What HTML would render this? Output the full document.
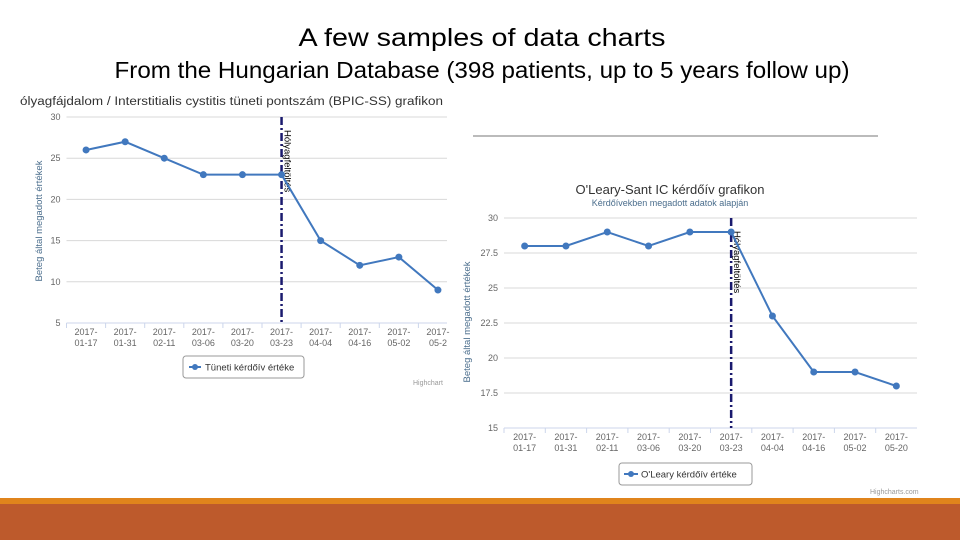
<!DOCTYPE html>
<html><head><meta charset="utf-8"><style>
html,body{margin:0;padding:0;background:#fff;width:960px;height:540px;overflow:hidden}
svg{display:block;font-family:"Liberation Sans",sans-serif}
</style></head><body>
<svg id="s" width="960" height="540" viewBox="0 0 960 540">
<text x="482" y="46" font-size="25" text-anchor="middle" fill="#000" textLength="367" lengthAdjust="spacingAndGlyphs">A few samples of data charts</text>
<text x="482" y="78" font-size="23" text-anchor="middle" fill="#000" textLength="735" lengthAdjust="spacingAndGlyphs">From the Hungarian Database (398 patients, up to 5 years follow up)</text>
<line x1="473" y1="136" x2="878" y2="136" stroke="#777" stroke-width="1"/>
<rect x="0" y="498" width="960" height="6" fill="#e0841c"/>
<rect x="0" y="504" width="960" height="36" fill="#bd5a2c"/>
<g id="c1"></g>
<g id="c2"></g>
</svg>
<script>
const categories1 = ["2017-01-17","2017-01-31","2017-02-11","2017-03-06","2017-03-20","2017-03-23","2017-04-04","2017-04-16","2017-05-02","2017-05-2"];
const values1 = [26,27,25,23,23,23,15,12,13,9];
const ticks1 = [5,10,15,20,25,30];
const categories2 = ["2017-01-17","2017-01-31","2017-02-11","2017-03-06","2017-03-20","2017-03-23","2017-04-04","2017-04-16","2017-05-02","2017-05-20"];
const values2 = [28,28,29,28,29,29,23,19,19,18];
const ticks2 = [15,17.5,20,22.5,25,27.5,30];
const marker1Index = 5, marker2Index = 5;

const NS="http://www.w3.org/2000/svg";
function mk(parent,tag,attrs,text){const e=document.createElementNS(NS,tag);for(const k in attrs)e.setAttribute(k,attrs[k]);if(text!==undefined)e.textContent=text;parent.appendChild(e);return e;}

function draw(g,cfg){
  const {x0,x1,gridEnd,yTop,yBot,min,max,cats,vals,ticks,markerIdx}=cfg;
  const cw=(x1-x0)/cats.length;
  const xS=i=>x0+cw*(i+0.5);
  const yS=v=>yBot-(v-min)/(max-min)*(yBot-yTop);
  ticks.forEach(t=>{
    const l=mk(g,'line',{x1:x0,x2:gridEnd,y1:yS(t),y2:yS(t),stroke:t===min?'#ccd6eb':'#d8d8d8','stroke-width':1});
    
    
    const tx=mk(g,'text',{x:x0-6,y:yS(t)+3,'font-size':9,'text-anchor':'end',fill:'#666'},String(t));
    
    
  });
  cats.forEach((c,i)=>{
    const tk=mk(g,'line',{x1:x0+cw*i,x2:x0+cw*i,y1:yBot,y2:yBot+5,stroke:'#ccd6eb'});
    
    
    const parts=c.split('-');
    const t=mk(g,'text',{x:xS(i),y:yBot+12,'font-size':9,'text-anchor':'middle',fill:'#666'});
    
    
    mk(t,'tspan',{x:xS(i)},parts[0]+'-');
    mk(t,'tspan',{x:xS(i),dy:11},parts.slice(1).join('-'));
  });
  const mx=xS(markerIdx);
  const pl=mk(g,'line',{x1:mx,x2:mx,y1:yTop,y2:yBot,stroke:'#1a1a6e','stroke-width':2.5,'stroke-dasharray':'8,3,2,3'});
  
  
  const pt=mk(g,'text',{x:mx+3,y:yTop+13,'font-size':9.5,fill:'#000',transform:`rotate(90 ${mx+3} ${yTop+13})`},'Hólyagfeltöltés');
  
  
  const path=vals.map((v,i)=>(i?'L':'M')+xS(i)+' '+yS(v)).join(' ');
  const ln=mk(g,'path',{d:path,fill:'none',stroke:'#4178be','stroke-width':2});
  
  
  vals.forEach((v,i)=>{
    const p=mk(g,'circle',{cx:xS(i),cy:yS(v),r:3.5,fill:'#4178be'});
    
    
  });
}

const g1=document.getElementById('c1'), g2=document.getElementById('c2');
draw(g1,{x0:66.5,x1:457.5,gridEnd:447,yTop:117,yBot:323,min:5,max:30,cats:categories1,vals:values1,ticks:ticks1,markerIdx:marker1Index});
draw(g2,{x0:504,x1:917,gridEnd:917,yTop:218,yBot:428,min:15,max:30,cats:categories2,vals:values2,ticks:ticks2,markerIdx:marker2Index});

let e;
e=mk(g1,'text',{x:20,y:105,'font-size':11.5,fill:'#333',textLength:423,lengthAdjust:'spacingAndGlyphs'},'ólyagfájdalom / Interstitialis cystitis tüneti pontszám (BPIC-SS) grafikon');


e=mk(g1,'text',{x:42,y:221,'font-size':9.5,fill:'#4a6d8c','text-anchor':'middle',transform:'rotate(-90 42 221)'},'Beteg által megadott értékek');


e=mk(g1,'rect',{x:183,y:356,width:121,height:22,rx:3,fill:'#fff',stroke:'#999'});


mk(g1,'line',{x1:189,x2:201,y1:367,y2:367,stroke:'#4178be','stroke-width':2});
mk(g1,'circle',{cx:195,cy:367,r:3,fill:'#4178be'});
e=mk(g1,'text',{x:205,y:370.5,'font-size':9.5,fill:'#333'},'Tüneti kérdőív értéke');


e=mk(g1,'text',{x:413,y:385,'font-size':7,fill:'#999'},'Highchart');



e=mk(g2,'text',{x:670,y:194,'font-size':13,fill:'#333','text-anchor':'middle'},"O'Leary-Sant IC kérdőív grafikon");


e=mk(g2,'text',{x:670,y:206,'font-size':9,fill:'#4a6d8c','text-anchor':'middle'},'Kérdőívekben megadott adatok alapján');


e=mk(g2,'text',{x:470,y:322,'font-size':9.5,fill:'#4a6d8c','text-anchor':'middle',transform:'rotate(-90 470 322)'},'Beteg által megadott értékek');


e=mk(g2,'rect',{x:619,y:463,width:133,height:22,rx:3,fill:'#fff',stroke:'#999'});


mk(g2,'line',{x1:624,x2:638,y1:474,y2:474,stroke:'#4178be','stroke-width':2});
mk(g2,'circle',{cx:631,cy:474,r:3,fill:'#4178be'});
e=mk(g2,'text',{x:641,y:477.5,'font-size':9.5,fill:'#333'},"O'Leary kérdőív értéke");


e=mk(g2,'text',{x:870,y:494,'font-size':7,fill:'#999'},'Highcharts.com');


</script>
</body></html>
